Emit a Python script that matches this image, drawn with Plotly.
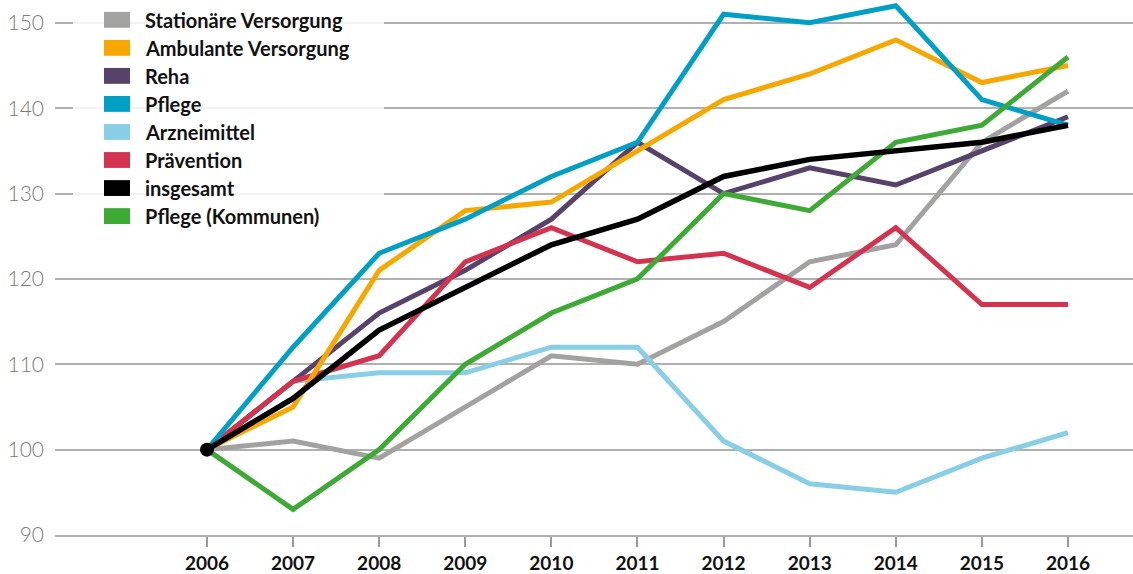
import plotly.graph_objects as go

years = [2006, 2007, 2008, 2009, 2010, 2011, 2012, 2013, 2014, 2015, 2016]

stationaer = [100, 101, 99, 105, 111, 110, 115, 122, 124, 136, 142]
ambulant = [100, 105, 121, 128, 129, 135, 141, 144, 148, 143, 145]
reha = [100, 108, 116, 121, 127, 136, 130, 133, 131, 135, 139]
pflege = [100, 112, 123, 127, 132, 136, 151, 150, 152, 141, 138]
arznei = [100, 108, 109, 109, 112, 112, 101, 96, 95, 99, 102]
praevention = [100, 108, 111, 122, 126, 122, 123, 119, 126, 117, 117]
insgesamt = [100, 106, 114, 119, 124, 127, 132, 134, 135, 136, 138]
pflege_kommunen = [100, 93, 100, 110, 116, 120, 130, 128, 136, 138, 146]

series_names = ["Stationäre Versorgung", "Ambulante Versorgung", "Reha", "Pflege",
                "Arzneimittel", "Prävention", "insgesamt", "Pflege (Kommunen)"]
series_values = [stationaer, ambulant, reha, pflege, arznei, praevention, insgesamt, pflege_kommunen]
series_colors = ["#a2a2a1", "#f6a800", "#574369", "#00a0c6", "#88cfe5", "#d4334f", "#000000", "#3daa35"]
# drawing order (bottom to top)
draw_order = [0, 4, 2, 5, 1, 3, 7, 6]

W, H = 1133, 574
ML, MR, MT, MB = 55, 0, 0, 34
PW, PH = W - ML - MR, H - MT - MB

def px_x(px):
    return (px - ML) / PW

def px_y(py):
    return 1 - (py - MT) / PH

fig = go.Figure()
for i in draw_order:
    fig.add_trace(go.Scatter(
        x=years, y=series_values[i], mode="lines", name=series_names[i],
        line=dict(color=series_colors[i], width=5 if i != 6 else 5.5),
        showlegend=False, hoverinfo="x+y+name"))

# start point marker
fig.add_trace(go.Scatter(x=[years[0]], y=[insgesamt[0]], mode="markers",
                         marker=dict(color="#000000", size=14), showlegend=False,
                         hoverinfo="skip"))

shapes = []
annotations = []
# legend background
shapes.append(dict(type="rect", xref="paper", yref="paper",
                   x0=px_x(73), x1=px_x(384), y0=px_y(236), y1=1,
                   fillcolor="rgba(255,255,255,0.85)", line=dict(width=0), layer="above"))
row0, step = 20, 28.3
for k, (name, col) in enumerate(zip(series_names, series_colors)):
    cy = row0 + k * step
    shapes.append(dict(type="rect", xref="paper", yref="paper",
                       x0=px_x(104), x1=px_x(130), y0=px_y(cy + 8), y1=px_y(cy - 8),
                       fillcolor=col, line=dict(width=0), layer="above"))
    annotations.append(dict(xref="paper", yref="paper", x=px_x(143), y=px_y(cy),
                            xanchor="left", yanchor="middle", showarrow=False, text=name,
                            font=dict(family="Lato", size=20, color="#111111", weight="bold")))

fig.update_layout(
    width=W, height=H,
    margin=dict(l=ML, r=MR, t=MT, b=MB),
    plot_bgcolor="white", paper_bgcolor="white",
    shapes=shapes, annotations=annotations,
    xaxis=dict(range=[2004.235, 2016.755], tickvals=years, ticktext=[str(y) for y in years],
               showgrid=False, zeroline=False, showline=True, linecolor="#b0b0b0", linewidth=2,
               ticks="outside", ticklen=10, tickwidth=1.5, tickcolor="#9a9a9a",
               tickfont=dict(family="Lato", size=19, color="#111111", weight="bold")),
    yaxis=dict(range=[90, 152.67], tickvals=[90, 100, 110, 120, 130, 140, 150],
               showgrid=True, gridcolor="#b0b0b0", gridwidth=1.5, zeroline=False,
               showline=False, ticks="", ticklabelstandoff=10,
               tickfont=dict(family="Lato", size=21, color="#7a7a7a", weight=300)),
)

fig.write_html("out.html", config={"displayModeBar": False},
               post_script="document.body.style.margin='0';document.body.style.overflow='hidden';")
